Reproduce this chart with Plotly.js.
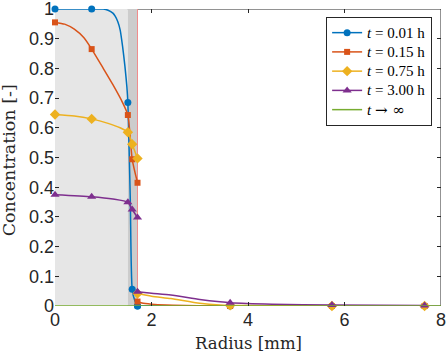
<!DOCTYPE html>
<html>
<head>
<meta charset="utf-8">
<script src="https://cdn.plot.ly/plotly-3.0.1.min.js"></script>
<style>
  html, body { margin: 0; padding: 0; background: #fff; }
  #chart { width: 447px; height: 352px; }
</style>
</head>
<body>
<div id="chart"></div>
<script>
// concentration profiles (radius in mm)
// inner domain and outer domain are split by a null so no vertical jump is drawn

var blueR = [0, 0.76, 1.0, 1.1, 1.2, 1.25, 1.3, 1.35, 1.4, 1.45, 1.49, 1.51, 1.56, 1.60, 1.66, 1.71, null, 1.71, 3.63, 5.74, 7.66];
var blueC = [1, 1, 1, 0.996, 0.986, 0.975, 0.958, 0.93, 0.875, 0.806, 0.738, 0.685, 0.36, 0.056, 0.015, 0, null, 0, 0, 0, 0];

var orangeR = [0, 0.2, 0.4, 0.6, 0.76, 1.0, 1.2, 1.4, 1.51, 1.60, 1.71, null, 1.71, 1.8, 2.0, 2.3, 2.7, 3.2, 3.63, 5.74, 7.66];
var orangeC = [0.955, 0.949, 0.932, 0.903, 0.865, 0.8, 0.745, 0.685, 0.643, 0.494, 0.415, null, 0.015, 0.01, 0.006, 0.003, 0.0015, 0.0005, 0, 0, 0];

var yellowR = [0, 0.4, 0.76, 1.1, 1.35, 1.51, 1.60, 1.71, null, 1.71, 2.0, 2.4, 3.0, 3.42, 3.63, 4.5, 5.74, 7.66];
var yellowC = [0.645, 0.64, 0.63, 0.615, 0.6, 0.585, 0.545, 0.497, null, 0.042, 0.033, 0.025, 0.009, 0.003, 0.002, 0.001, 0, 0];

var purpleR = [0, 0.76, 1.2, 1.51, 1.60, 1.71, null, 1.71, 2.0, 2.4, 3.0, 3.42, 3.63, 4.5, 5.74, 7.66];
var purpleC = [0.375, 0.368, 0.36, 0.349, 0.325, 0.298, null, 0.048, 0.043, 0.037, 0.022, 0.014, 0.011, 0.006, 0.003, 0.002];

var steadyR = [0, 8];
var steadyC = [0, 0];

// mesh nodes where the markers sit (1.71 appears twice: inner / outer side)
var nodeR = [0, 0.76, 1.51, 1.60, 1.71, 1.71, 3.63, 5.74, 7.66];
var blueNodes = [1, 1, 0.685, 0.056, 0, 0, 0, 0, 0];
var orangeNodes = [0.955, 0.865, 0.643, 0.494, 0.415, 0.015, 0, 0, 0];
var yellowNodes = [0.645, 0.63, 0.585, 0.545, 0.497, 0.042, 0.002, 0, 0];
var purpleNodes = [0.375, 0.368, 0.349, 0.325, 0.298, 0.048, 0.011, 0.003, 0.002];

var legendNames = [
    '<i>t</i> = 0.01 h',
    '<i>t</i> = 0.15 h',
    '<i>t</i> = 0.75 h',
    '<i>t</i> = 3.00 h',
    '<i>t</i> <span style="font-family:DejaVu Serif">\u2192 \u221e</span>'
];

// inner region and interface
var innerEdge = 1.51;
var interfaceR = 1.71;

var series = [
    {r: blueR, c: blueC, nodes: blueNodes, color: '#0072BD', symbol: 'circle', size: 7},
    {r: orangeR, c: orangeC, nodes: orangeNodes, color: '#D95319', symbol: 'square', size: 6},
    {r: yellowR, c: yellowC, nodes: yellowNodes, color: '#EDB120', symbol: 'diamond', size: 8},
    {r: purpleR, c: purpleC, nodes: purpleNodes, color: '#7E2F8E', symbol: 'triangle-up', size: 8},
    {r: steadyR, c: steadyC, nodes: null, color: '#77AC30', symbol: null, size: 0}
];

var data = [];
series.forEach(function(s, i) {
    data.push({
        x: s.r, y: s.c, mode: 'lines', type: 'scatter',
        line: {color: s.color, width: 1.5, shape: 'spline', smoothing: 0.6},
        connectgaps: false, showlegend: false, cliponaxis: false, hoverinfo: 'skip'
    });
    if (s.nodes) {
        data.push({
            x: nodeR, y: s.nodes, mode: 'markers', type: 'scatter',
            marker: {color: s.color, symbol: s.symbol, size: s.size},
            showlegend: false, cliponaxis: false, hoverinfo: 'skip'
        });
    }
});

// legend-only entries; text drawn a bit bigger than the legend font so rows stay tight
series.forEach(function(s, i) {
    var tr = {
        x: [null], y: [null], type: 'scatter',
        name: '<span style="font-size:15px">' + legendNames[i] + '</span>',
        mode: s.symbol ? 'lines+markers' : 'lines',
        line: {color: s.color, width: 1.5}
    };
    if (s.symbol) tr.marker = {color: s.color, symbol: s.symbol, size: s.size};
    data.push(tr);
});

var frameColor = '#262626';
var titleFont = {family: 'DejaVu Serif, serif', size: 16.5, color: frameColor};

var layout = {
    width: 447,
    height: 352,
    margin: {l: 55, r: 6, t: 9, b: 46},
    paper_bgcolor: '#ffffff',
    plot_bgcolor: '#ffffff',
    showlegend: true,
    legend: {
        x: 0.977, y: 0.973, xanchor: 'right', yanchor: 'top',
        bgcolor: '#ffffff', bordercolor: '#262626', borderwidth: 1,
        font: {family: 'Liberation Serif, serif', size: 12.5, color: '#000'},
        entrywidth: 72, tracegroupgap: 0
    },
    xaxis: {
        range: [0, 8], tickvals: [0, 2, 4, 6, 8], ticks: 'inside', ticklen: 4,
        tickcolor: frameColor, mirror: 'ticks', showline: false, showgrid: false, zeroline: false,
        ticklabelstandoff: 1, ticklabeloverflow: 'allow',
        tickfont: {family: 'Liberation Sans, Arial, sans-serif', size: 18, color: frameColor}
    },
    yaxis: {
        range: [0, 1], tickvals: [0, 0.1, 0.2, 0.3, 0.4, 0.5, 0.6, 0.7, 0.8, 0.9, 1],
        ticktext: ['0', '0.1', '0.2', '0.3', '0.4', '0.5', '0.6', '0.7', '0.8', '0.9', '1'],
        ticks: 'inside', ticklen: 4, ticklabeloverflow: 'allow',
        tickcolor: frameColor, mirror: 'ticks', showline: false, showgrid: false, zeroline: false,
        tickfont: {family: 'Liberation Sans, Arial, sans-serif', size: 18, color: frameColor}
    },
    // axis titles as annotations so they can sit lower / further left than the margin allows
    annotations: [
        {text: 'Radius [mm]', xref: 'paper', yref: 'paper', x: 0.5, y: -0.125,
            xanchor: 'center', yanchor: 'middle', showarrow: false, font: titleFont},
        {text: 'Concentration [-]', xref: 'paper', yref: 'paper', x: -0.117, y: 0.49,
            xanchor: 'center', yanchor: 'middle', textangle: -90, showarrow: false,
            font: {family: 'DejaVu Serif, serif', size: 17.5, color: frameColor}}
    ],
    shapes: [
        // axes box
        {type: 'rect', xref: 'x', yref: 'y', x0: 0, x1: 8, y0: 0, y1: 1,
            line: {color: frameColor, width: 1}, layer: 'below'},
        // inner region + interface layer
        {type: 'rect', xref: 'x', yref: 'y', x0: 0, x1: innerEdge, y0: 0, y1: 1,
            fillcolor: '#e6e6e6', line: {width: 0}, layer: 'below'},
        {type: 'rect', xref: 'x', yref: 'y', x0: innerEdge, x1: interfaceR, y0: 0, y1: 1,
            fillcolor: '#cccccc', line: {width: 0}, layer: 'below'},
        {type: 'line', xref: 'x', yref: 'y', x0: interfaceR, x1: interfaceR, y0: 0, y1: 1,
            line: {color: '#f08c8c', width: 1}, layer: 'below'}
    ]
};

Plotly.newPlot('chart', data, layout, {displayModeBar: false, staticPlot: true});
</script>
</body>
</html>
